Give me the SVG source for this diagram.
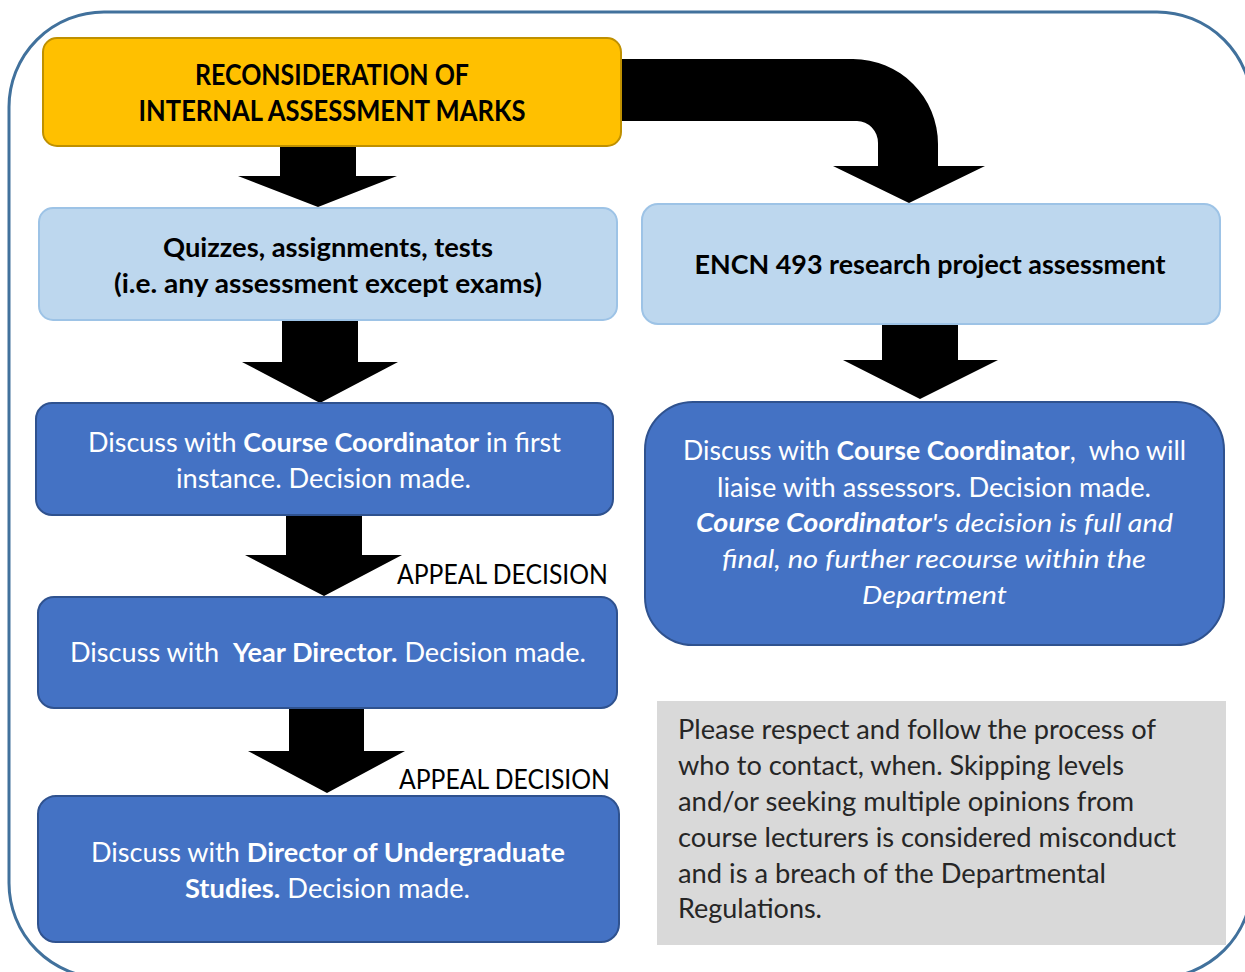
<svg xmlns="http://www.w3.org/2000/svg" width="1245" height="972" viewBox="0 0 1245 972">
<style>
.t{font-family:Lato,"Open Sans","Liberation Sans",sans-serif;font-size:26px}
.h{font-size:28px}
.b{font-weight:700}
.i{font-style:italic}
.p{white-space:pre}
.w{fill:#ffffff}
.k{fill:#000000}
.g{fill:#262626}
.lb{fill:#BDD7EE;stroke:#9DC3E6;stroke-width:2}
.db{fill:#4472C4;stroke:#2F528F;stroke-width:2}
.arr{fill:#000000}
</style>
<rect id="frame" x="9" y="12" width="1243" height="966" rx="95" ry="95" fill="#ffffff" stroke="#41719C" stroke-width="3"/>
<g id="connectors">
<path class="arr" d="M 610,59 H 853 A 85 85 0 0 1 938,144 V 166 H 985 L 909,203 L 833,166 H 878 V 143 A 21 22 0 0 0 857,121 H 610 Z"/>
<polygon class="arr" points="280,140 356,140 356,176 397,176 318,207 238,176 280,176"/>
<polygon class="arr" points="282,320 358,320 358,362 398,362 320,403 242,362 282,362"/>
<polygon class="arr" points="882,322 958,322 958,360 998,360 920,399 843,360 882,360"/>
<polygon class="arr" points="286,512 362,512 362,555 402,555 324,596 245,555 286,555"/>
<polygon class="arr" points="289,706 364,706 364,751 405,751 327,793 248,751 289,751"/>
<text class="t k" x="397" y="584" textLength="211" lengthAdjust="spacingAndGlyphs">APPEAL DECISION</text>
<text class="t k" x="399" y="789" textLength="211" lengthAdjust="spacingAndGlyphs">APPEAL DECISION</text>
</g>
<g id="n-start">
<rect x="43" y="38" width="578" height="108" rx="14" fill="#FFC000" stroke="#BF9000" stroke-width="2"/>
<text class="t h b k" x="332" y="85" text-anchor="middle" textLength="274" lengthAdjust="spacingAndGlyphs">RECONSIDERATION OF</text>
<text class="t h b k" x="332" y="121" text-anchor="middle" textLength="387" lengthAdjust="spacingAndGlyphs">INTERNAL ASSESSMENT MARKS</text>
</g>
<g id="n-quizzes">
<rect class="lb" x="39" y="208" width="578" height="112" rx="14"/>
<text class="t b k" x="328" y="257" text-anchor="middle" textLength="330" lengthAdjust="spacingAndGlyphs">Quizzes, assignments, tests</text>
<text class="t b k" x="328" y="293" text-anchor="middle" textLength="428" lengthAdjust="spacingAndGlyphs">(i.e. any assessment except exams)</text>
</g>
<g id="n-encn">
<rect class="lb" x="642" y="204" width="578" height="120" rx="16"/>
<text class="t b k" x="930" y="274" text-anchor="middle" textLength="471" lengthAdjust="spacingAndGlyphs">ENCN 493 research project assessment</text>
</g>
<g id="n-cc">
<rect class="db" x="36" y="403" width="577" height="112" rx="16"/>
<text class="t w" x="324.5" y="452" text-anchor="middle" textLength="473" lengthAdjust="spacingAndGlyphs">Discuss with <tspan class="b">Course Coordinator</tspan> in first</text>
<text class="t w" x="323.5" y="488" text-anchor="middle" textLength="295" lengthAdjust="spacingAndGlyphs">instance. Decision made.</text>
</g>
<g id="n-yd">
<rect class="db" x="38" y="597" width="579" height="111" rx="16"/>
<text class="t w p" x="328" y="662" text-anchor="middle" textLength="516" lengthAdjust="spacingAndGlyphs">Discuss with  <tspan class="b">Year Director.</tspan> Decision made.</text>
</g>
<g id="n-dus">
<rect class="db" x="38" y="796" width="581" height="146" rx="18"/>
<text class="t w" x="328" y="862" text-anchor="middle" textLength="474" lengthAdjust="spacingAndGlyphs">Discuss with <tspan class="b">Director of Undergraduate</tspan></text>
<text class="t w" x="327.5" y="898" text-anchor="middle" textLength="285" lengthAdjust="spacingAndGlyphs"><tspan class="b">Studies.</tspan> Decision made.</text>
</g>
<g id="n-cc2">
<rect class="db" x="645" y="402" width="579" height="243" rx="48"/>
<text class="t w p" x="934.5" y="460" text-anchor="middle" textLength="503" lengthAdjust="spacingAndGlyphs">Discuss with <tspan class="b">Course Coordinator</tspan>,  who will</text>
<text class="t w" x="934" y="497" text-anchor="middle" textLength="434" lengthAdjust="spacingAndGlyphs">liaise with assessors. Decision made.</text>
<text class="t w i" x="934.5" y="532" text-anchor="middle" textLength="477" lengthAdjust="spacingAndGlyphs"><tspan class="b">Course Coordinator</tspan>'s decision is full and</text>
<text class="t w i" x="934" y="568" text-anchor="middle" textLength="424" lengthAdjust="spacingAndGlyphs">final, no further recourse within the</text>
<text class="t w i" x="934.5" y="604" text-anchor="middle" textLength="145" lengthAdjust="spacingAndGlyphs">Department</text>
</g>
<g id="n-note">
<rect x="657" y="701" width="569" height="244" fill="#D9D9D9"/>
<text class="t g" x="678" y="739" textLength="478" lengthAdjust="spacingAndGlyphs">Please respect and follow the process of</text>
<text class="t g" x="678" y="775" textLength="446" lengthAdjust="spacingAndGlyphs">who to contact, when. Skipping levels</text>
<text class="t g" x="678" y="811" textLength="456" lengthAdjust="spacingAndGlyphs">and/or seeking multiple opinions from</text>
<text class="t g" x="678" y="847" textLength="498" lengthAdjust="spacingAndGlyphs">course lecturers is considered misconduct</text>
<text class="t g" x="678" y="883" textLength="428" lengthAdjust="spacingAndGlyphs">and is a breach of the Departmental</text>
<text class="t g" x="678" y="918" textLength="144" lengthAdjust="spacingAndGlyphs">Regulations.</text>
</g>
</svg>
